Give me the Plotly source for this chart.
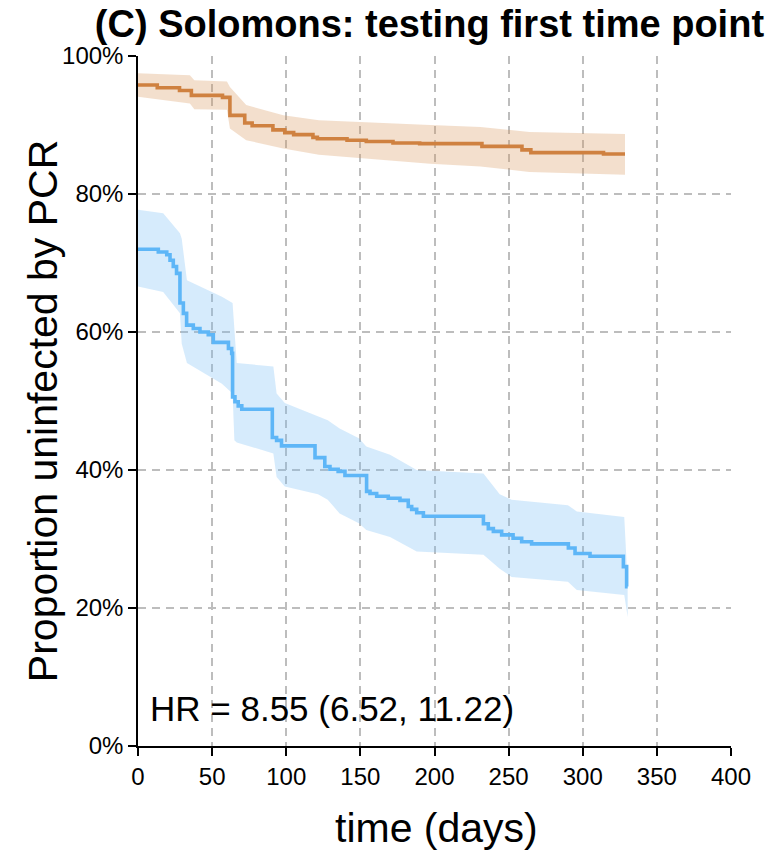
import plotly.graph_objects as go

# ---- data ----
orange_t = [0, 13, 28, 36, 57, 62, 72, 77, 91, 99, 105, 118, 121, 141, 154, 172, 190, 232, 259, 265, 314, 328.5]
orange_s = [95.8, 95.4, 95.0, 94.3, 94.0, 91.4, 90.3, 89.9, 89.3, 88.9, 88.6, 88.2, 88.0, 87.8, 87.6, 87.4, 87.3, 86.9, 86.4, 86.0, 85.8, 85.8]

orange_band_t = [0, 35, 38, 60, 62, 73, 98, 122, 197, 231, 264, 328.5]
orange_upper = [97.5, 97.2, 96.5, 96.3, 95.5, 92.9, 91.4, 90.7, 90.0, 89.7, 89.0, 88.7]
orange_lower = [94.1, 93.1, 92.3, 92.2, 89.5, 87.8, 86.6, 85.7, 84.4, 84.0, 83.2, 82.8]

blue_t = [0, 13.7, 19.4, 21.6, 23.8, 26, 28.3, 30.6, 32.8, 37.3, 41.8, 47.4, 50.8, 61, 63.2, 63.8, 65.4,
          67.6, 70, 90.6, 93.5, 96.8, 119.4, 126, 129.5, 135, 139.6, 154.2, 156.5, 161, 168.8, 176.7,
          182.3, 184.6, 188, 192.5, 233, 236.3, 239.7, 245.3, 253, 258.8, 265.5, 290.3, 294.8, 304.9,
          327.4, 329.6, 330.3]
blue_s = [72.0, 71.6, 71.2, 70.4, 69.5, 68.5, 64.2, 62.7, 61.0, 60.5, 60.0, 59.6, 58.5, 57.6, 56.9, 50.6, 49.9,
          49.3, 48.8, 44.7, 44.3, 43.5, 41.8, 40.5, 40.1, 39.8, 39.2, 36.9, 36.6, 36.2, 35.9, 35.6,
          34.7, 34.3, 33.8, 33.3, 32.2, 31.5, 31.1, 30.6, 30.1, 29.6, 29.3, 28.7, 27.9, 27.5,
          26.0, 23.1, 23.1]

blue_band_t = [0, 17, 28.3, 29.5, 33, 56.6, 63.8, 65, 66.6, 91.3, 93.5, 99, 121.4, 128, 136, 149, 154,
               170, 188, 233, 244, 252, 290, 296, 328, 330.3]
blue_upper = [77.7, 77.2, 74.3, 73.5, 67.5, 65.1, 64.2, 60.0, 55.5, 55.0, 51.1, 49.7, 47.7, 47.2, 46.0,
              44.6, 43.4, 42.2, 40.0, 39.5, 36.5, 35.7, 34.9, 34.0, 33.2, 23.5]
blue_lower = [66.6, 65.8, 62.7, 58.3, 55.5, 52.5, 51.1, 44.3, 44.0, 42.4, 39.0, 37.6, 36.5, 35.7, 33.7,
              32.3, 31.3, 30.3, 28.2, 27.7, 25.7, 24.5, 23.8, 22.6, 21.9, 18.7]

x_ticks = [0, 50, 100, 150, 200, 250, 300, 350, 400]
y_ticks = [0, 20, 40, 60, 80, 100]
y_ticklabels = ["0%", "20%", "40%", "60%", "80%", "100%"]

title_text = "(C) Solomons: testing first time point"
hr_text = "HR = 8.55 (6.52, 11.22)"
x_title = "time (days)"
y_title = "Proportion uninfected by PCR"

ORANGE = "#CF8140"
ORANGE_FILL = "rgba(214,150,90,0.30)"
BLUE = "#5EB6F7"
BLUE_FILL = "rgba(120,190,245,0.30)"
FONT = "Liberation Sans, Arial, sans-serif"

fig = go.Figure()

def band(t, up, lo, color):
    return go.Scatter(x=list(t) + list(t)[::-1], y=list(up) + list(lo)[::-1],
                      fill="toself", fillcolor=color, line=dict(width=0),
                      mode="lines", hoverinfo="skip", showlegend=False)

fig.add_trace(band(orange_band_t, orange_upper, orange_lower, ORANGE_FILL))
fig.add_trace(band(blue_band_t, blue_upper, blue_lower, BLUE_FILL))
fig.add_trace(go.Scatter(x=orange_t, y=orange_s, mode="lines",
                         line=dict(color=ORANGE, width=3.6, shape="hv"), showlegend=False))
fig.add_trace(go.Scatter(x=blue_t, y=blue_s, mode="lines",
                         line=dict(color=BLUE, width=3.6, shape="hv"), showlegend=False))

grid = dict(showgrid=True, gridcolor="#BDBDBD", gridwidth=1.5, griddash="8px,6px")

fig.update_xaxes(range=[0, 400], tickvals=x_ticks, ticks="outside", ticklen=8, tickwidth=1.5,
                 tickcolor="black", showline=True, linecolor="black", linewidth=1.5,
                 zeroline=False, tickfont=dict(family=FONT, size=24, color="black"), **grid)
fig.update_yaxes(range=[0, 100], tickvals=y_ticks, ticktext=y_ticklabels, ticks="outside",
                 ticklen=8, tickwidth=1.5, tickcolor="black", showline=True, linecolor="black",
                 linewidth=1.5, zeroline=False, tickfont=dict(family=FONT, size=24, color="black"), **grid)

fig.add_annotation(text=hr_text, x=6.5, y=5.5, xref="x", yref="y", xanchor="left", yanchor="middle",
                   showarrow=False, font=dict(family=FONT, size=35, color="black"))
fig.add_annotation(text=x_title, x=0.503, y=-0.119, xref="paper", yref="paper", xanchor="center",
                   yanchor="middle", showarrow=False, font=dict(family=FONT, size=41, color="black"))
fig.add_annotation(text=y_title, x=-0.160, y=0.4855, xref="paper", yref="paper", xanchor="center",
                   yanchor="middle", textangle=-90, showarrow=False,
                   font=dict(family=FONT, size=41, color="black"))

fig.update_layout(
    width=769, height=854,
    margin=dict(l=138, r=38, t=56, b=108),
    plot_bgcolor="white", paper_bgcolor="white",
    title=dict(text="<b>" + title_text + "</b>", x=0.4915, xref="paper", xanchor="center",
               y=1 - 24 / 854, yref="container", yanchor="middle",
               font=dict(family=FONT, size=38, color="black")),
    showlegend=False,
)

fig.write_html("out.html")
